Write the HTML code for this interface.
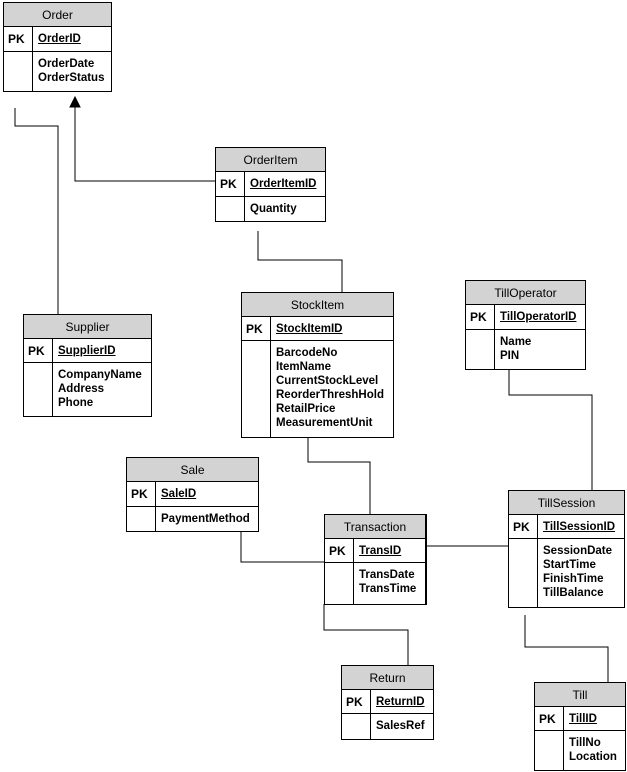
<!DOCTYPE html>
<html><head><meta charset="utf-8"><style>
body{margin:0;width:627px;height:772px;background:#fff;position:relative;overflow:hidden;font-family:"Liberation Sans",Arial,sans-serif}
.t{position:absolute;border:1px solid #000;background:#fff;box-sizing:border-box}
.h{background:#d3d3d3;border-bottom:1px solid #000;text-align:center;font-size:12px;height:24px;line-height:24px;box-sizing:border-box}
.r{display:flex;border-bottom:1px solid #000;box-sizing:border-box}
.r:last-child{border-bottom:none}
.k{width:29px;border-right:1px solid #000;font-weight:bold;font-size:12px;padding:5px 0 0 4px;box-sizing:border-box}
.v{padding:5px 0 0 5px;font-weight:bold;font-size:11.5px;line-height:14px}
.u{text-decoration:underline}
svg{position:absolute;left:0;top:0}
</style></head><body>
<svg width="627" height="772" fill="none" stroke="#000" stroke-width="1">
<polyline points="15,108 15,126 58,126 58,314"/>
<polyline points="215,181 75,181 75,106"/>
<polygon points="75,97 70,107 80,107" fill="#000"/>
<polyline points="258,231 258,260 342,260 342,292"/>
<polyline points="308,437 308,462 370,462 370,514"/>
<polyline points="241,531 241,562 324,562"/>
<polyline points="426,546 508,546"/>
<polyline points="509,369 509,395 592,395 592,490"/>
<polyline points="324,604 324,630 408,630 408,665"/>
<polyline points="525,615 525,647 608,647 608,682"/>
</svg>

<div class="t" style="left:3px;top:2px;width:109px;height:90px"><div class="h">Order</div><div class="r" style="height:25px"><div class="k">PK</div><div class="v u">OrderID</div></div><div class="r" style="height:39px"><div class="k"></div><div class="v">OrderDate<br>OrderStatus</div></div></div>

<div class="t" style="left:215px;top:147px;width:111px;height:75px"><div class="h">OrderItem</div><div class="r" style="height:25px"><div class="k">PK</div><div class="v u">OrderItemID</div></div><div class="r" style="height:24px"><div class="k"></div><div class="v">Quantity</div></div></div>

<div class="t" style="left:241px;top:292px;width:153px;height:146px"><div class="h">StockItem</div><div class="r" style="height:24px"><div class="k">PK</div><div class="v u">StockItemID</div></div><div class="r" style="height:96px"><div class="k"></div><div class="v">BarcodeNo<br>ItemName<br>CurrentStockLevel<br>ReorderThreshHold<br>RetailPrice<br>MeasurementUnit</div></div></div>

<div class="t" style="left:465px;top:280px;width:121px;height:90px"><div class="h">TillOperator</div><div class="r" style="height:25px"><div class="k">PK</div><div class="v u">TillOperatorID</div></div><div class="r" style="height:39px"><div class="k"></div><div class="v">Name<br>PIN</div></div></div>

<div class="t" style="left:23px;top:314px;width:129px;height:103px"><div class="h">Supplier</div><div class="r" style="height:24px"><div class="k">PK</div><div class="v u">SupplierID</div></div><div class="r" style="height:53px"><div class="k"></div><div class="v">CompanyName<br>Address<br>Phone</div></div></div>

<div class="t" style="left:126px;top:457px;width:133px;height:75px"><div class="h">Sale</div><div class="r" style="height:25px"><div class="k">PK</div><div class="v u">SaleID</div></div><div class="r" style="height:24px"><div class="k"></div><div class="v">PaymentMethod</div></div></div>

<div class="t" style="left:324px;top:514px;width:103px;height:91px;border-right-width:2px"><div class="h">Transaction</div><div class="r" style="height:24px"><div class="k">PK</div><div class="v u">TransID</div></div><div class="r" style="height:41px"><div class="k"></div><div class="v">TransDate<br>TransTime</div></div></div>

<div class="t" style="left:508px;top:490px;width:117px;height:118px"><div class="h">TillSession</div><div class="r" style="height:24px"><div class="k">PK</div><div class="v u">TillSessionID</div></div><div class="r" style="height:68px"><div class="k"></div><div class="v">SessionDate<br>StartTime<br>FinishTime<br>TillBalance</div></div></div>

<div class="t" style="left:341px;top:665px;width:93px;height:75px"><div class="h">Return</div><div class="r" style="height:24px"><div class="k">PK</div><div class="v u">ReturnID</div></div><div class="r" style="height:25px"><div class="k"></div><div class="v">SalesRef</div></div></div>

<div class="t" style="left:534px;top:682px;width:92px;height:89px"><div class="h">Till</div><div class="r" style="height:24px"><div class="k">PK</div><div class="v u">TillID</div></div><div class="r" style="height:39px"><div class="k"></div><div class="v">TillNo<br>Location</div></div></div>
</body></html>
